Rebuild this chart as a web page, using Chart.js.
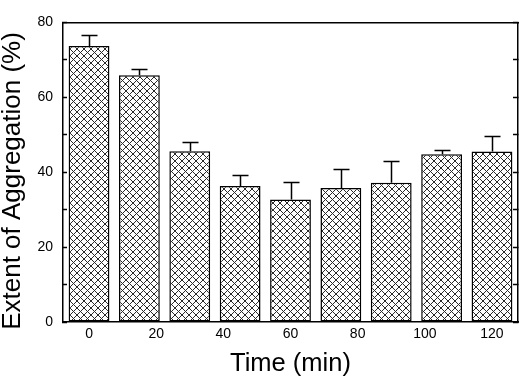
<!DOCTYPE html>
<html><head><meta charset="utf-8">
<script src="https://cdn.jsdelivr.net/npm/chart.js@4.4.1/dist/chart.umd.min.js"></script>
<style>html,body{margin:0;padding:0;background:#fff}#wrap{width:520px;height:379px}</style>
</head><body><div id="wrap"><canvas id="c" width="520" height="379"></canvas></div>
<script>
const times = [0, 15, 30, 45, 60, 75, 90, 105, 120];
const aggregation = [73.7, 65.9, 45.6, 36.3, 32.7, 35.8, 37.2, 44.8, 45.5];
const errors = [3.0, 1.7, 2.5, 2.9, 4.6, 5.0, 5.8, 1.1, 4.1];
const xTickValues = [0, 20, 40, 60, 80, 100, 120];
const yTickValues = [0, 10, 20, 30, 40, 50, 60, 70, 80];
const yLabelValues = [0, 20, 40, 60, 80];
const xTitle = 'Time (min)';
const yTitle = 'Extent of Aggregation (%)';

const FONT = "'Liberation Sans', Arial, sans-serif";

function hatch() {
  const n = 7;
  const c = document.createElement('canvas');
  c.width = n; c.height = n;
  const g = c.getContext('2d');
  g.fillStyle = '#fff'; g.fillRect(0, 0, n, n);
  g.fillStyle = '#2a2a2a';
  for (let i = 0; i < n; i++) {
    g.fillRect(i, i, 1, 1);
    g.fillRect(i, n - 1 - i, 1, 1);
  }
  return g.createPattern(c, 'repeat');
}

const errorBars = {
  id: 'errorBars',
  afterDatasetsDraw(chart) {
    const ctx = chart.ctx, xs = chart.scales.x, ys = chart.scales.y;
    ctx.save();
    ctx.strokeStyle = '#000';
    ctx.lineWidth = 1.5;
    times.forEach((t, i) => {
      const x = Math.round(xs.getPixelForValue(t)) + 0.5;
      const y0 = ys.getPixelForValue(aggregation[i]);
      const y1 = Math.round(ys.getPixelForValue(aggregation[i] + errors[i])) + 0.5;
      ctx.beginPath();
      ctx.moveTo(x, y0); ctx.lineTo(x, y1);
      ctx.moveTo(x - 8, y1); ctx.lineTo(x + 8, y1);
      ctx.stroke();
    });
    ctx.restore();
  }
};

const yTitlePlugin = {
  id: 'yTitlePlugin',
  afterDraw(chart) {
    const ctx = chart.ctx;
    ctx.save();
    ctx.translate(13, 181);
    ctx.rotate(-Math.PI / 2);
    ctx.font = "26px " + FONT;
    ctx.fillStyle = '#000';
    ctx.textAlign = 'center';
    ctx.textBaseline = 'middle';
    ctx.fillText(yTitle, 0, 0);
    ctx.restore();
  }
};

const ctx = document.getElementById('c').getContext('2d');
new Chart(ctx, {
  type: 'bar',
  data: {
    datasets: [{
      data: times.map((t, i) => ({ x: t, y: aggregation[i] })),
      backgroundColor: hatch(),
      borderColor: '#000',
      borderWidth: 1.5,
      borderSkipped: false,
      barPercentage: 0.81,
      categoryPercentage: 1
    }]
  },
  options: {
    responsive: false,
    devicePixelRatio: 1,
    animation: false,
    layout: { padding: { left: 0, right: 2, top: 7, bottom: 0 } },
    plugins: { legend: { display: false }, tooltip: { enabled: false } },
    scales: {
      x: {
        type: 'linear', position: 'bottom', offset: false,
        min: -7.75, max: 127.75,
        afterBuildTicks: s => { s.ticks = xTickValues.map(v => ({ value: v })); },
        afterFit: s => { s.height = 57; },
        grid: { display: true, drawOnChartArea: false, drawTicks: false, offset: false },
        border: { display: true, color: '#000', width: 1.5 },
        ticks: { color: '#000', font: { family: FONT, size: 14 }, padding: 4, maxRotation: 0, autoSkip: false },
        title: { display: true, text: xTitle, color: '#000', font: { family: FONT, size: 25.5, lineHeight: 1 }, padding: { top: 0, bottom: 2 } }
      },
      x2: {
        type: 'linear', position: 'top', offset: false,
        min: -7.75, max: 127.75,
        afterFit: s => { s.height = 0; },
        grid: { drawOnChartArea: false, drawTicks: false },
        border: { display: true, color: '#000', width: 1.5 },
        ticks: { display: false }
      },
      y: {
        type: 'linear', position: 'left',
        min: 0, max: 80,
        afterBuildTicks: s => { s.ticks = yTickValues.map(v => ({ value: v })); },
        afterFit: s => { s.width = 63; },
        grid: { drawOnChartArea: false, drawTicks: true, tickLength: -4, color: '#000', tickWidth: 1.5 },
        border: { display: true, color: '#000', width: 1.5 },
        ticks: {
          color: '#000', font: { family: FONT, size: 14 }, padding: 14,
          callback: v => yLabelValues.includes(v) ? String(v) : ''
        }
      },
      y2: {
        type: 'linear', position: 'right',
        min: 0, max: 80,
        afterBuildTicks: s => { s.ticks = yTickValues.map(v => ({ value: v })); },
        afterFit: s => { s.width = 0; },
        grid: { drawOnChartArea: false, drawTicks: true, tickLength: -5, color: '#000', tickWidth: 1.5 },
        border: { display: true, color: '#000', width: 1.5 },
        ticks: { display: false }
      }
    }
  },
  plugins: [errorBars, yTitlePlugin]
});
</script>
</body></html>
